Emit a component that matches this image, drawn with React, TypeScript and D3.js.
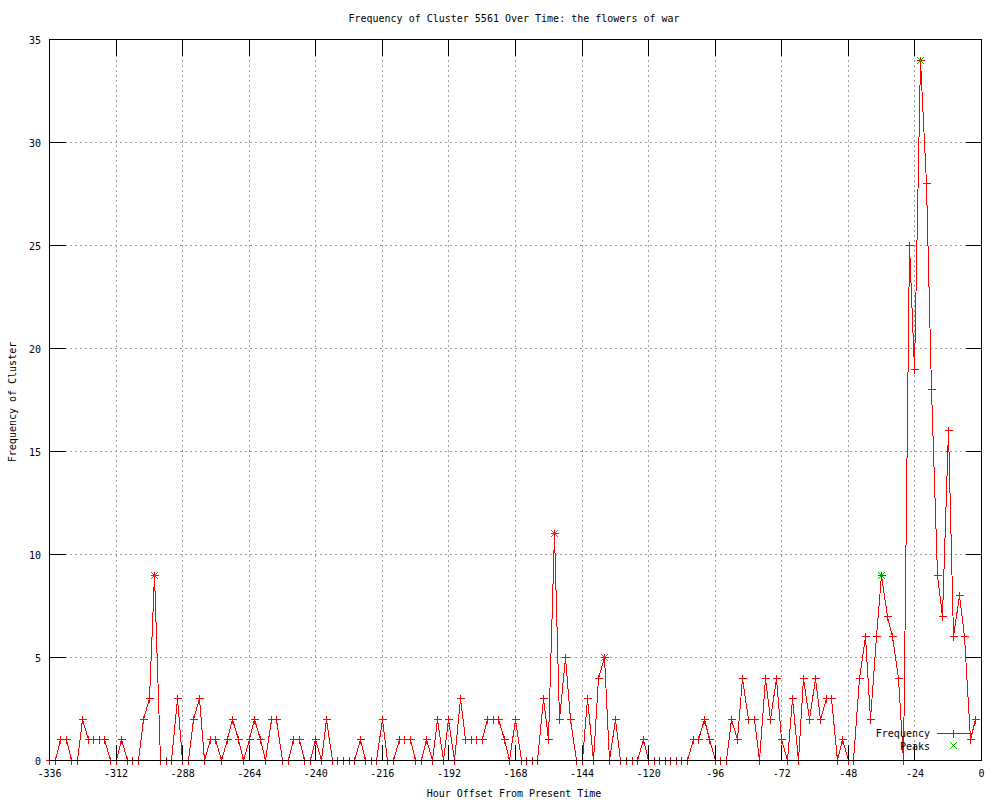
import React from "react";
import * as d3 from "d3";

const titleText = "Frequency of Cluster 5561 Over Time: the flowers of war";
const xLabel = "Hour Offset From Present Time";
const yLabel = "Frequency of Cluster";

// one value every 2 hours, from -336 to -2
const hourOffsets: number[] = d3.range(-336, 0, 2);
const frequency: number[] = [
  0, 0, 1, 1, 0, 0, 2, 1, 1, 1, 1, 0, 0, 1, 0, 0, 0, 2, 3, 9,
  0, 0, 0, 3, 0, 0, 2, 3, 0, 1, 1, 0, 1, 2, 1, 0, 1, 2, 1, 0,
  2, 2, 0, 0, 1, 1, 0, 0, 1, 0, 2, 0, 0, 0, 0, 0, 1, 0, 0, 0,
  2, 0, 0, 1, 1, 1, 0, 0, 1, 0, 2, 0, 2, 0, 3, 1, 1, 1, 1, 2,
  2, 2, 1, 0, 2, 0, 0, 0, 0, 3, 1, 11, 2, 5, 2, 0, 0, 3, 0, 4,
  5, 0, 2, 0, 0, 0, 0, 1, 0, 0, 0, 0, 0, 0, 0, 0, 1, 1, 2, 1,
  0, 0, 0, 2, 1, 4, 2, 2, 0, 4, 2, 4, 1, 0, 3, 0, 4, 2, 4, 2,
  3, 3, 0, 1, 0, 0, 4, 6, 2, 6, 9, 7, 6, 4, 0, 25, 19, 34, 28, 18,
  9, 7, 16, 6, 8, 6, 1, 2,
];
const peakHours: number[] = [-298, -154, -136, -36, -22];
const peakValues: number[] = [9, 11, 5, 9, 34];
const xTicks: number[] = d3.range(-336, 1, 24);
const yTicks: number[] = [0, 5, 10, 15, 20, 25, 30, 35];

const W = 1000;
const H = 800;
const FONT = "'DejaVu Sans Mono', monospace";

export default function App() {
  const x = d3.scaleLinear().domain([-336, 0]).range([49.5, 981.5]);
  const y = d3.scaleLinear().domain([0, 35]).range([760.5, 39.5]);
  const left = x(-336), right = x(0), top = y(35), bottom = y(0);
  const px = (v: number) => Math.round(x(v) - 0.5) + 0.5;
  const py = (v: number) => Math.round(y(v) - 0.5) + 0.5;
  const data = hourOffsets.map((h, i) => ({ h, v: frequency[i] }));
  const line = d3
    .line<{ h: number; v: number }>()
    .x((d) => px(d.h))
    .y((d) => py(d.v));
  const tickLen = 16;
  const m = 4;
  const plus = (cx: number, cy: number) =>
    `M${cx - m},${cy}H${cx + m}M${cx},${cy - m}V${cy + m}`;
  const cross = (cx: number, cy: number) =>
    `M${cx - 3.5},${cy - 3.5}L${cx + 3.5},${cy + 3.5}M${cx - 3.5},${cy + 3.5}L${cx + 3.5},${cy - 3.5}`;

  return (
    <svg
      width={W}
      height={H}
      style={{ position: "absolute", left: 0, top: 0, background: "#fff" }}
      fontFamily={FONT}
      fontSize={10}
    >
      <rect x={0} y={0} width={W} height={H} fill="#fff" />
      {/* grid */}
      <g stroke="#a0a0a0" strokeWidth={1} strokeDasharray="2,3" shapeRendering="crispEdges">
        {xTicks
          .filter((t) => t !== -336 && t !== 0)
          .map((t) => (
            <line key={"gx" + t} x1={px(t)} x2={px(t)} y1={top} y2={bottom} />
          ))}
        {yTicks
          .filter((t) => t !== 0 && t !== 35)
          .map((t) => (
            <line key={"gy" + t} x1={left} x2={right} y1={py(t)} y2={py(t)} />
          ))}
      </g>
      {/* data */}
      <path d={line(data) || ""} fill="none" stroke="#ff0000" strokeWidth={1} shapeRendering="crispEdges" />
      <g stroke="#ff0000" strokeWidth={1} shapeRendering="crispEdges">
        {data.map((d, i) => (
          <path key={"m" + i} d={plus(px(d.h), py(d.v))} />
        ))}
      </g>
      <g stroke="#00c000" strokeWidth={1} shapeRendering="crispEdges">
        {peakHours.map((h, i) => (
          <path key={"p" + i} d={cross(px(h), py(peakValues[i]))} />
        ))}
      </g>
      {/* border and ticks */}
      <g stroke="#000" strokeWidth={1} shapeRendering="crispEdges" fill="none">
        <rect x={left} y={top} width={right - left} height={bottom - top} />
        {xTicks.map((t) => (
          <g key={"tx" + t}>
            <line x1={px(t)} x2={px(t)} y1={bottom} y2={bottom - tickLen} />
            <line x1={px(t)} x2={px(t)} y1={top} y2={top + tickLen} />
          </g>
        ))}
        {yTicks.map((t) => (
          <g key={"ty" + t}>
            <line x1={left} x2={left + tickLen} y1={py(t)} y2={py(t)} />
            <line x1={right} x2={right - tickLen} y1={py(t)} y2={py(t)} />
          </g>
        ))}
      </g>
      {/* tick labels */}
      <g fill="#000">
        {xTicks.map((t) => (
          <text key={"lx" + t} x={x(t)} y={777} textAnchor="middle">
            {String(t)}
          </text>
        ))}
        {yTicks.map((t) => (
          <text key={"ly" + t} x={41} y={y(t) + 4} textAnchor="end">
            {String(t)}
          </text>
        ))}
      </g>
      <text x={514} y={22} textAnchor="middle">
        {titleText}
      </text>
      <text x={514} y={797} textAnchor="middle">
        {xLabel}
      </text>
      <text transform="translate(16,402) rotate(-90)" textAnchor="middle">
        {yLabel}
      </text>
      {/* legend */}
      <g>
        <text x={930} y={737} textAnchor="end">
          Frequency
        </text>
        <line x1={937} x2={970} y1={733.5} y2={733.5} stroke="#ff0000" shapeRendering="crispEdges" />
        <path d={plus(953.5, 733.5)} stroke="#ff0000" shapeRendering="crispEdges" />
        <text x={930} y={750} textAnchor="end">
          Peaks
        </text>
        <path d={cross(953.5, 745.5)} stroke="#00c000" shapeRendering="crispEdges" />
      </g>
    </svg>
  );
}
